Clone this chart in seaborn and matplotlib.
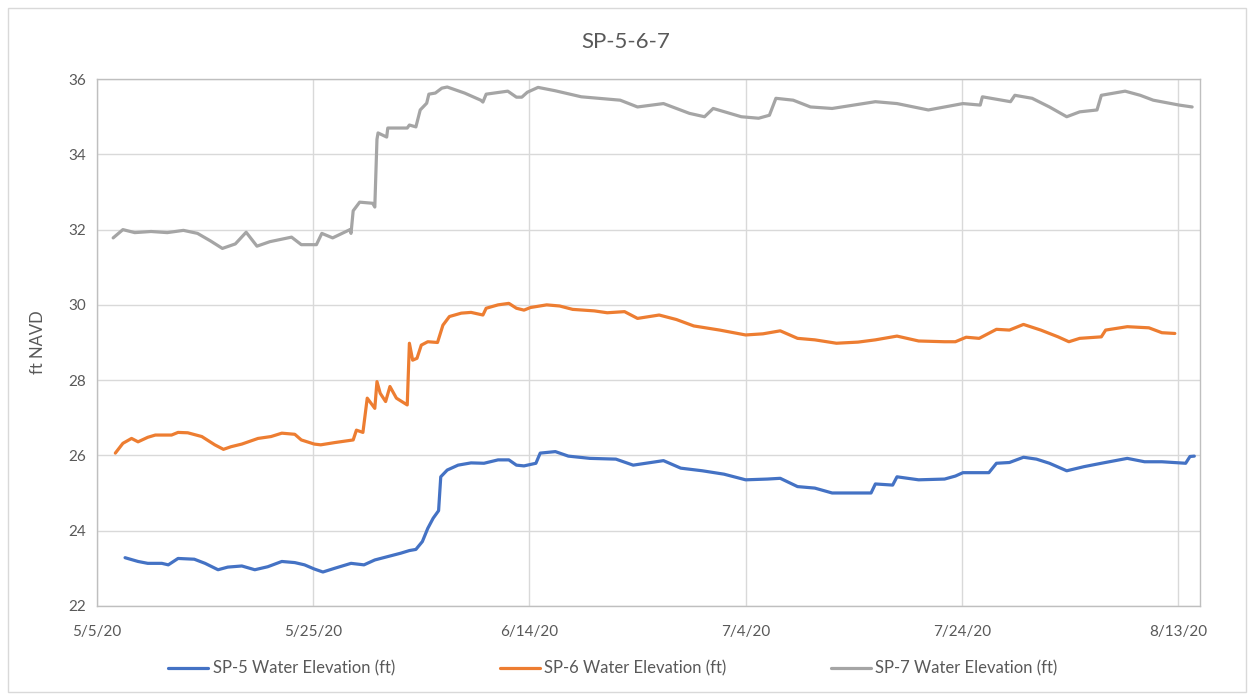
import pandas as pd
import matplotlib.pyplot as plt
import seaborn as sns

# days after 5/5/20 and water elevation (ft NAVD)
sp5_days = [2.6, 3.8, 4.7, 6.0, 6.6, 7.5, 9.0, 10.0, 11.2, 12.1, 13.4, 14.6, 15.8, 17.1,
            18.3, 19.2, 20.1, 20.9, 22.0, 23.5, 24.7, 25.7, 26.9, 28.1, 28.9, 29.5, 30.1,
            30.6, 31.1, 31.6, 31.8, 32.4, 33.4, 34.6, 35.8, 37.1, 38.1, 38.8, 39.5, 40.6,
            41.0, 42.4, 43.6, 45.6, 48.0, 49.6, 52.4, 54.0, 56.0, 58.0, 60.0, 62.0, 63.2,
            64.8, 66.4, 68.0, 70.4, 71.6, 72.0, 73.6, 74.0, 76.0, 78.4, 79.4, 80.1, 82.5,
            83.2, 84.4, 85.7, 86.9, 88.1, 89.7, 91.3, 92.9, 95.3, 96.9, 98.5, 100.7, 101.1,
            101.5]
sp5_vals = [23.28, 23.18, 23.13, 23.13, 23.09, 23.26, 23.24, 23.13, 22.96, 23.03, 23.06,
            22.96, 23.04, 23.18, 23.15, 23.09, 22.98, 22.90, 23.00, 23.13, 23.09, 23.22,
            23.31, 23.40, 23.47, 23.50, 23.71, 24.06, 24.33, 24.53, 25.43, 25.61, 25.74,
            25.80, 25.79, 25.88, 25.88, 25.74, 25.72, 25.79, 26.06, 26.10, 25.98, 25.92,
            25.90, 25.74, 25.86, 25.66, 25.59, 25.50, 25.35, 25.37, 25.39, 25.17, 25.13,
            25.00, 25.00, 25.00, 25.24, 25.21, 25.43, 25.35, 25.37, 25.45, 25.54, 25.54,
            25.79, 25.81, 25.95, 25.90, 25.79, 25.59, 25.70, 25.79, 25.92, 25.83, 25.83,
            25.79, 25.97, 25.98]

sp6_days = [1.7, 2.4, 3.2, 3.8, 4.7, 5.4, 6.9, 7.5, 8.4, 9.7, 10.9, 11.7, 12.4, 13.4,
            14.9, 16.1, 17.1, 18.3, 18.9, 20.1, 20.7, 22.0, 23.7, 24.0, 24.6, 25.0, 25.7,
            25.9, 26.2, 26.7, 27.1, 27.7, 28.7, 28.9, 29.2, 29.6, 30.0, 30.6, 31.5, 32.0,
            32.6, 33.7, 34.6, 35.7, 36.0, 37.1, 38.1, 38.8, 39.5, 40.1, 41.6, 42.8, 44.0,
            46.0, 47.2, 48.8, 50.0, 52.0, 53.6, 55.2, 57.6, 60.0, 61.6, 63.2, 64.8, 66.4,
            68.4, 70.4, 72.0, 74.0, 76.0, 78.4, 79.4, 80.4, 81.6, 83.2, 84.4, 85.7, 87.3,
            88.9, 89.9, 90.9, 92.9, 93.3, 95.3, 97.3, 98.5, 99.7]
sp6_vals = [26.06, 26.32, 26.45, 26.36, 26.48, 26.54, 26.54, 26.61, 26.60, 26.50, 26.28,
            26.16, 26.23, 26.30, 26.45, 26.50, 26.59, 26.56, 26.41, 26.30, 26.28, 26.34,
            26.41, 26.67, 26.61, 27.52, 27.25, 27.96, 27.65, 27.43, 27.83, 27.52, 27.34,
            28.98, 28.53, 28.58, 28.93, 29.02, 29.00, 29.46, 29.69, 29.78, 29.80, 29.73,
            29.91, 30.00, 30.04, 29.91, 29.86, 29.93, 30.00, 29.97, 29.88, 29.84, 29.79,
            29.82, 29.64, 29.73, 29.61, 29.44, 29.33, 29.20, 29.23, 29.31, 29.11, 29.07,
            28.98, 29.01, 29.07, 29.17, 29.04, 29.02, 29.02, 29.14, 29.11, 29.35, 29.33,
            29.48, 29.33, 29.15, 29.02, 29.11, 29.15, 29.33, 29.42, 29.39, 29.26, 29.24]

sp7_days = [1.5, 2.4, 3.5, 5.0, 6.5, 8.0, 9.3, 10.5, 11.6, 12.8, 13.8, 14.8, 16.0, 18.0,
            18.9, 20.3, 20.8, 21.8, 23.4, 23.5, 23.7, 24.3, 25.5, 25.7, 25.9, 26.0, 26.8,
            26.9, 28.7, 28.9, 29.5, 29.9, 30.5, 30.7, 31.3, 31.9, 32.4, 34.0, 35.5, 35.7,
            36.0, 38.0, 38.8, 39.3, 39.8, 40.8, 42.4, 44.8, 46.4, 48.4, 50.0, 52.4, 54.8,
            56.2, 57.0, 59.6, 61.2, 62.2, 62.8, 64.4, 66.0, 68.0, 72.0, 74.0, 76.9, 80.1,
            81.7, 81.9, 84.5, 84.9, 86.5, 88.1, 89.7, 90.9, 92.5, 92.9, 95.1, 96.5, 97.7,
            100.1, 101.3]
sp7_vals = [31.78, 32.00, 31.92, 31.95, 31.92, 31.98, 31.90, 31.70, 31.50, 31.62, 31.93,
            31.56, 31.68, 31.80, 31.60, 31.60, 31.90, 31.78, 32.00, 31.90, 32.50, 32.73,
            32.70, 32.60, 34.40, 34.57, 34.46, 34.70, 34.70, 34.78, 34.73, 35.18, 35.36,
            35.60, 35.63, 35.76, 35.79, 35.63, 35.44, 35.39, 35.60, 35.68, 35.52, 35.52,
            35.65, 35.78, 35.69, 35.53, 35.49, 35.44, 35.26, 35.35, 35.09, 35.00, 35.22,
            35.00, 34.96, 35.04, 35.49, 35.44, 35.26, 35.22, 35.40, 35.35, 35.18, 35.35,
            35.31, 35.53, 35.40, 35.57, 35.49, 35.26, 35.00, 35.13, 35.18, 35.57, 35.68,
            35.57, 35.44, 35.31, 35.26]

start = pd.Timestamp("2020-05-05")
tick_dates = ["2020-05-05", "2020-05-25", "2020-06-14", "2020-07-04", "2020-07-24", "2020-08-13"]
tick_labels = ["5/5/20", "5/25/20", "6/14/20", "7/4/20", "7/24/20", "8/13/20"]
y_ticks = [22, 24, 26, 28, 30, 32, 34, 36]

series = [
    ("SP-5 Water Elevation (ft)", sp5_days, sp5_vals, "#4472C4"),
    ("SP-6 Water Elevation (ft)", sp6_days, sp6_vals, "#ED7D31"),
    ("SP-7 Water Elevation (ft)", sp7_days, sp7_vals, "#A5A5A5"),
]

sns.set_theme(style="white")
plt.rcParams['font.family'] = ['Lato', 'DejaVu Sans']

fig = plt.figure(figsize=(12.51, 6.94), dpi=100)
ax = fig.add_axes([0.0775, 0.127, 0.8815, 0.759])

for name, days, vals, color in series:
    df = pd.DataFrame({"date": start + pd.to_timedelta(days, unit="D"), "elev": vals})
    sns.lineplot(data=df, x="date", y="elev", ax=ax, color=color, linewidth=2.3, label=name)

ax.set_xlim(start, pd.Timestamp("2020-08-15"))
ax.set_ylim(22, 36)
ax.set_yticks(y_ticks)
ax.set_xticks(pd.to_datetime(tick_dates))
ax.set_xticklabels(tick_labels)
ax.grid(True, color="#D9D9D9", linewidth=1.0)
ax.tick_params(axis="both", labelsize=11, colors="#595959", length=0, pad=14)
ax.tick_params(axis="y", pad=8)
for s in ax.spines.values():
    s.set_color("#BFBFBF")
    s.set_linewidth(1.0)

ax.set_xlabel("")
ax.set_ylabel("ft NAVD", fontsize=12, color="#595959", labelpad=16)
fig.text(0.5, 0.94, "SP-5-6-7", ha="center", va="center", fontsize=16, color="#595959")

handles, labels = ax.get_legend_handles_labels()
ax.get_legend().remove()
fig.legend(handles, labels, loc="center", bbox_to_anchor=(0.49, 0.037), ncol=3, frameon=False,
           fontsize=12, labelcolor="#595959", handlelength=2.4, handletextpad=0.25,
           columnspacing=6.3)

fig.patches.append(plt.Rectangle((0.006, 0.003), 0.99, 0.985, transform=fig.transFigure,
                                 fill=False, edgecolor="#D9D9D9", linewidth=1.0))

fig.savefig("out.png", dpi=100)
